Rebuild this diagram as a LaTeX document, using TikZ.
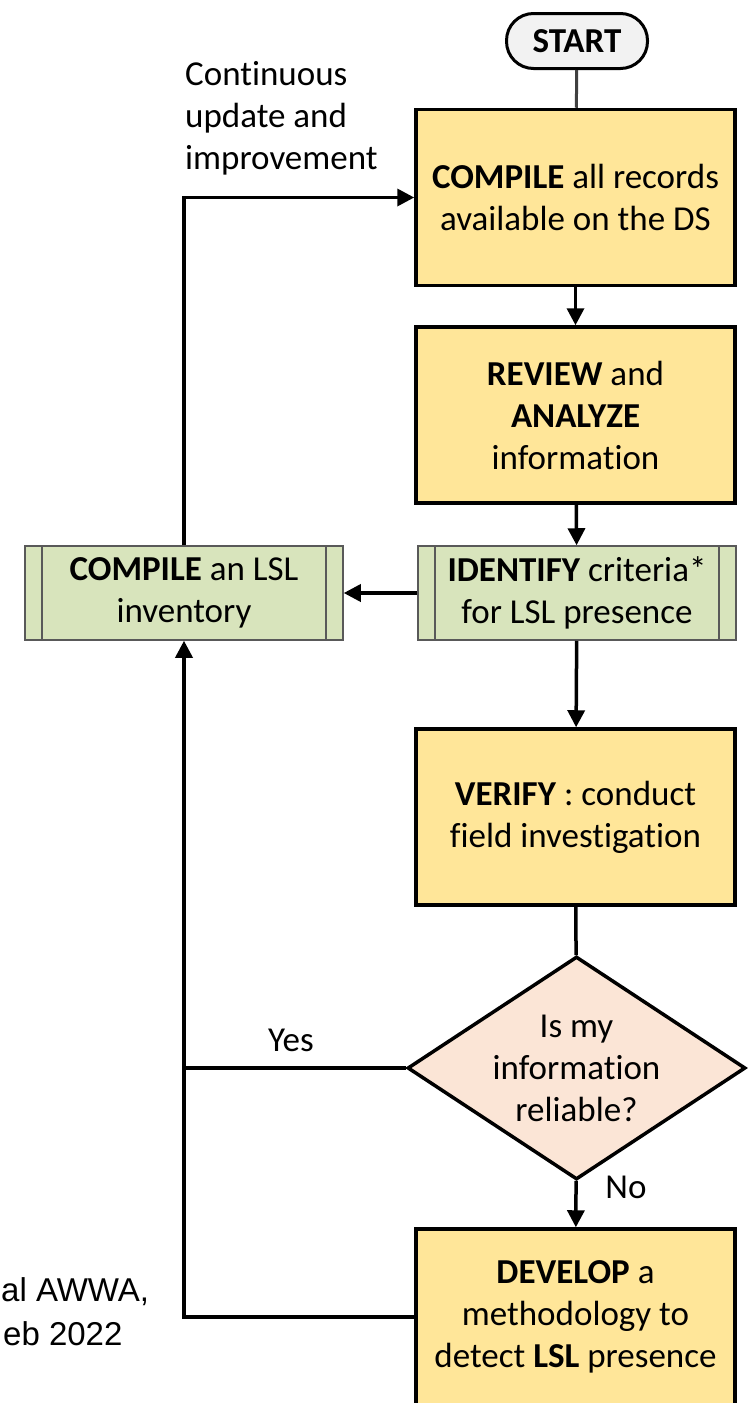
\documentclass[tikz,border=0pt]{standalone}
\usepackage{fontspec}
\setmainfont{Carlito}[Ligatures={NoCommon}]
\newfontfamily\arialfont{Liberation Sans}
\usetikzlibrary{shapes.geometric,arrows.meta}
\definecolor{procfill}{HTML}{FFE699}
\definecolor{greenfill}{HTML}{D8E4BC}
\definecolor{greenline}{HTML}{595959}
\definecolor{diafill}{HTML}{FBE5D6}
\definecolor{startfill}{HTML}{F2F2F2}
\definecolor{startline}{HTML}{404040}
\newcommand{\flowfont}{\fontsize{35}{42}\selectfont}
\tikzset{
  proc/.style={draw=black, line width=3.5pt, fill=procfill, minimum width=319pt,
    minimum height=176pt, align=center, font=\flowfont, inner sep=0pt},
  predef/.style={draw=greenline, line width=1.5pt, fill=greenfill, minimum width=318pt,
    minimum height=94pt, align=center, font=\flowfont, inner sep=0pt,
    path picture={
      \draw[greenline, line width=1.5pt]
        ([xshift=17pt]path picture bounding box.south west) -- ([xshift=17pt]path picture bounding box.north west)
        ([xshift=-17pt]path picture bounding box.south east) -- ([xshift=-17pt]path picture bounding box.north east);
    }},
  decision/.style={diamond, draw=black, line width=3.5pt, fill=diafill, aspect=1.516,
    minimum width=338pt, minimum height=223pt, align=center, font=\flowfont, inner sep=0pt},
  terminal/.style={draw=black, line width=3pt, fill=startfill, rounded corners=27pt,
    minimum width=141pt, minimum height=55pt, font=\flowfont\bfseries, inner sep=0pt},
  conn/.style={line width=3.5pt, draw=black},
  arr/.style={conn, -{Triangle[length=17pt,width=17pt]}},
  lbl/.style={font=\flowfont, inner sep=0pt}
}
\begin{document}
\begin{tikzpicture}[x=1pt,y=-1pt]
\useasboundingbox (0,0) rectangle (754,1403);
\clip (0,0) rectangle (754,1403);

\node[terminal] (start) at (577,41) {START};
\node[proc] (box1) at (575.5,197.5) {\textbf{COMPILE} all records\\available on the DS};
\node[proc] (box2) at (575.5,415) {\textbf{REVIEW} and\\\textbf{ANALYZE}\\information};
\node[predef] (ident) at (577,593) {\textbf{IDENTIFY} criteria*\\for LSL presence};
\node[predef] (lsl) at (184,593) {\textbf{COMPILE} an LSL\\inventory};
\node[proc] (verify) at (575.5,817) {\textbf{VERIFY} : conduct\\field investigation};
\node[decision] (dia) at (576.5,1068) {Is my\\information\\reliable?};
\node[proc] (develop) at (575.5,1317) {\textbf{DEVELOP} a\\methodology to\\detect \textbf{LSL} presence};

\node[lbl, anchor=north west, align=left] (cont) at (185,61) {Continuous\\update and\\improvement};
\node[lbl] (yes) at (291,1040) {Yes};
\node[lbl] (no) at (626,1187) {No};
\node[anchor=north west, align=left, inner sep=0pt,
  font=\arialfont\fontsize{33}{44}\selectfont] (src) at (1,1277) {al AWWA,\\\hspace*{2pt}eb 2022};

\coordinate (yesj) at (184,1068);

\draw[conn, draw=startline, line width=3pt] (start) -- (box1);
\draw[arr] (box1) -- (box2);
\draw[arr] (box2) -- (ident);
\draw[arr] (ident) -- (lsl);
\draw[arr] (ident) -- (verify);
\draw[conn] (verify) -- (dia);
\draw[arr] (dia) -- (develop);
\draw[conn] (dia.west) -- (yesj);
\draw[arr] (develop.west) -| (lsl.south);
\draw[arr] (lsl.north) |- (box1.west);
\end{tikzpicture}
\end{document}
